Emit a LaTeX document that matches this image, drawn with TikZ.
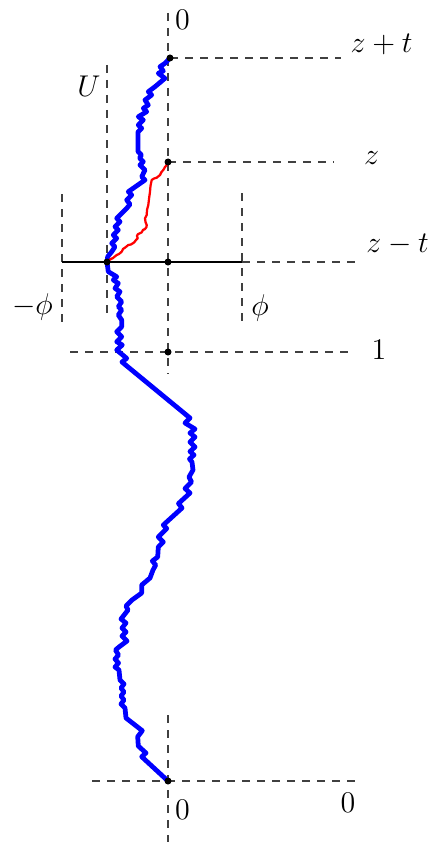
\documentclass[tikz,border=0pt]{standalone}
\begin{document}
\begin{tikzpicture}[x=0.4pt,y=-0.4pt,
  guide/.style={draw=black!75, line width=0.45pt, dash pattern=on 3.2pt off 2.8pt},
  dot/.style={circle, fill=black, inner sep=0pt, minimum size=2.8pt},
  lab/.style={inner sep=0pt, font=\fontsize{12}{14}\selectfont},
  walk/.style={draw=blue, line width=1.9pt, line join=round, line cap=round},
  bridge/.style={draw=red, line width=0.9pt, line join=round},
  level/.style={draw=black, line width=1.1pt}]
\useasboundingbox (0,0) rectangle (430,846);
% key positions
\coordinate (ptop) at (170,58);
\coordinate (pz) at (168,162);
\coordinate (pzt) at (168,262);
\coordinate (pj) at (107,262);
\coordinate (pone) at (168,352);
\coordinate (po) at (168,781);
% guide ends
\coordinate (vA) at (168,13);
\coordinate (vB) at (168,374);
\coordinate (vC) at (168,715);
\coordinate (vD) at (168,842);
\coordinate (hztR) at (341,58);
\coordinate (hzR) at (334,162);
\coordinate (levL) at (62,262);
\coordinate (levR) at (242,262);
\coordinate (hztmR) at (357,262);
\coordinate (honeL) at (70,352);
\coordinate (honeR) at (350,352);
\coordinate (hoL) at (92,781);
\coordinate (hoR) at (357,781);
\coordinate (mphiA) at (62,194);
\coordinate (mphiB) at (62,322);
\coordinate (phiA) at (242,193);
\coordinate (phiB) at (242,322);
\coordinate (uA) at (107,65);
\coordinate (uB) at (107,320);
% dashed guides
\draw[guide] (vA) -- (vB);
\draw[guide] (vC) -- (vD);
\draw[guide] (ptop) -- (hztR);
\draw[guide] (pz) -- (hzR);
\draw[guide] (levR) -- (hztmR);
\draw[guide] (honeL) -- (honeR);
\draw[guide] (hoL) -- (hoR);
\draw[guide] (mphiA) -- (mphiB);
\draw[guide] (phiA) -- (phiB);
\draw[guide] (uA) -- (uB);
% level line
\draw[level] (levL) -- (levR);
% blue walk
\draw[walk] (po) -- (141.7,756.7) -- (146,753) -- (138.3,746) -- (137.7,736.7) -- (142.3,730.7)
 -- (126,718) -- (125,708) -- (121,704) -- (124,700) -- (121,696) -- (124,692) -- (121,688)
 -- (124,684) -- (120,680) -- (119,670) -- (115,667) -- (118.5,663) -- (115,659) -- (118.5,655)
 -- (115.5,650) -- (119,647) -- (127,641) -- (122,636) -- (126,632) -- (122,628) -- (126,623)
 -- (121,619) -- (128,610) -- (126,606) -- (132,600) -- (141.7,593) -- (141.7,585) -- (150,578)
 -- (153,570) -- (155.7,565) -- (152.3,561) -- (157.7,557) -- (158.3,547) -- (163.3,542)
 -- (158.3,537) -- (166.7,528.5) -- (163.3,525) -- (182,508) -- (178.5,503.5) -- (190,493)
 -- (185,488.5) -- (191.5,482) -- (189,477) -- (193,470) -- (192,462) -- (189.5,459) -- (194,455)
 -- (190,451.5) -- (195,447) -- (190,442) -- (195,437) -- (190,433) -- (195,429) -- (185,423)
 -- (190,418) -- (122,362) -- (126.7,358.3) -- (116.7,350) -- (122.3,345) -- (116.7,341.7)
 -- (121.7,336.7) -- (116.7,331.7) -- (121.7,326.7) -- (121.7,320) -- (118.3,315) -- (121.7,310)
 -- (118.3,306.7) -- (121.7,301.7) -- (116.7,296.7) -- (120,291.7) -- (115,288.3) -- (118.3,283.3)
 -- (113.3,280) -- (116.7,276.7) -- (108.3,271.7) -- (pj) -- (107.7,256.7) -- (111.7,251.7)
 -- (115,246.7) -- (111.7,243.3) -- (116.7,238.3) -- (113.3,235) -- (118.3,230) -- (115,226.7)
 -- (120,221.7) -- (116.7,218.3) -- (121.7,213.3) -- (126.7,208.3) -- (130,204.3) -- (126.7,200)
 -- (131.7,195) -- (128.3,191.7) -- (145,180) -- (141.7,176.7) -- (145,170) -- (140,165)
 -- (143.3,161.7) -- (139.5,158) -- (141.5,155) -- (138,151.5) -- (138,132) -- (141.7,128.3)
 -- (138.3,125) -- (143.3,120) -- (138.3,116.7) -- (146.7,111.7) -- (143.3,108.3) -- (148.3,105)
 -- (145,100) -- (151.7,95) -- (148.3,91.7) -- (155,86.7) -- (165,78.3) -- (158.3,73.3)
 -- (163.3,71) -- (160,66.7) -- (165,63.3) -- (ptop);
% red bridge
\draw[bridge] (pj) -- (110,259.5) -- (113,258) -- (116.7,255) -- (119,254) -- (121.7,251.7)
 -- (123,249) -- (125,247.7) -- (128.3,245) -- (131,244.5) -- (134.3,242.3) -- (136,240)
 -- (137.7,238.3) -- (137,236) -- (137.7,234.3) -- (141.7,232.3) -- (143,230) -- (145,229)
 -- (146.5,227) -- (146.7,225) -- (145.5,222) -- (145,218.3) -- (146.7,215) -- (147,210)
 -- (148.3,205) -- (149,199) -- (150,191.7) -- (150.5,186) -- (151.7,180) -- (154,178.5)
 -- (156.7,177.7) -- (160,175) -- (161.5,172) -- (163.3,170) -- (165,167) -- (166.7,165) -- (pz);
% dots
\node[dot] (dtop) at (ptop) {};
\node[dot] (dz) at (pz) {};
\node[dot] (dzt) at (pzt) {};
\node[dot] (dj) at (pj) {};
\node[dot] (done) at (pone) {};
\node[dot] (do) at (po) {};
% labels
\node[lab] (l0top) at (182.5,20) {$0$};
\node[lab] (lzpt) at (381.5,44) {$z+t$};
\node[lab] (lU) at (89,86) {$U$};
\node[lab] (lz) at (371.5,158) {$z$};
\node[lab] (lzmt) at (397.5,245) {$z-t$};
\node[lab] (lmphi) at (32.5,307) {$-\phi$};
\node[lab] (lphi) at (260,308) {$\phi$};
\node[lab] (lone) at (379,350) {$1$};
\node[lab] (l0bot) at (182.5,810) {$0$};
\node[lab] (l0right) at (348,803) {$0$};
\end{tikzpicture}
\end{document}
